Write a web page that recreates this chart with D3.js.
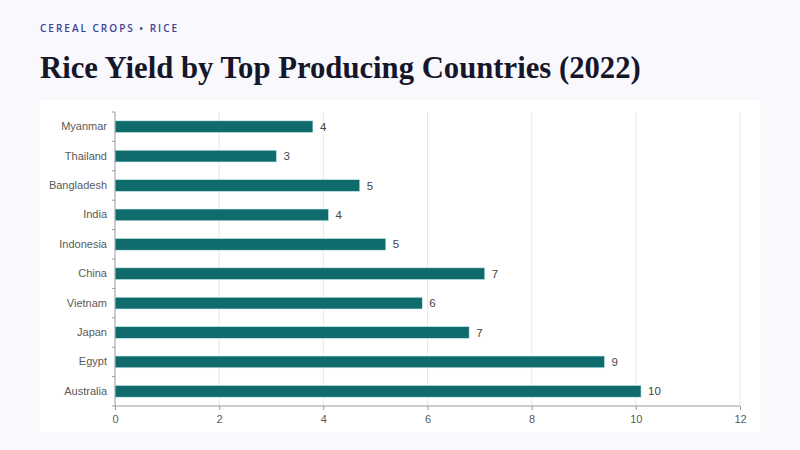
<!DOCTYPE html>
<html>
<head>
<meta charset="utf-8">
<script src="https://cdn.jsdelivr.net/npm/d3@7"></script>
<style>
  html, body { margin: 0; padding: 0; background: #f8f8fd; }
  svg { display: block; }
</style>
</head>
<body>
<svg id="chart" width="800" height="450"></svg>
<script>
'use strict';

var countries = ["Myanmar", "Thailand", "Bangladesh", "India", "Indonesia", "China", "Vietnam", "Japan", "Egypt", "Australia"];
var yieldValues = [3.8, 3.1, 4.7, 4.1, 5.2, 7.1, 5.9, 6.8, 9.4, 10.1];
var xTicks = [0, 2, 4, 6, 8, 10, 12];

var svg = d3.select("#chart");

var width = 800,
    height = 450;

var margin = { top: 112, right: 60, bottom: 44, left: 115 };

svg.append("rect")
    .attr("width", width)
    .attr("height", height)
    .attr("fill", "#f8f8fd");

// white card behind the plot
svg.append("rect")
    .attr("x", 40)
    .attr("y", 100)
    .attr("width", 720)
    .attr("height", 332)
    .attr("fill", "#ffffff");

svg.append("text")
    .attr("x", 40)
    .attr("y", 32)
    .text("CEREAL CROPS \u2022 RICE")
    .style("font-family", "'Open Sans', sans-serif")
    .style("font-size", "10px")
    .style("font-weight", "600")
    .style("letter-spacing", "2px")
    .attr("fill", "#3b4394");

var title = svg.append("text")
    .attr("x", 40)
    .attr("y", 78)
    .text("Rice Yield by Top Producing Countries (2022)")
    .style("font-family", "'Liberation Serif', serif")
    .style("font-size", "32px")
    .style("font-weight", "bold")
    .attr("fill", "#16162a");

// shrink/grow the title so it spans about 600px like the original
var tw = title.node().getComputedTextLength();
title.style("font-size", (32 * 600 / tw).toFixed(1) + "px");

var data = countries.map(function (c, i) {
    return { country: c, value: yieldValues[i] };
});

var x = d3.scaleLinear()
    .domain([0, 12])
    .range([margin.left, width - margin.right]);

var y = d3.scaleBand()
    .domain(countries)
    .range([margin.top, height - margin.bottom])
    .paddingInner(0.6)
    .paddingOuter(0.3);

var plotBottom = height - margin.bottom;

// vertical grid lines
svg.append("g")
    .selectAll("line")
    .data(xTicks.slice(1))
    .enter().append("line")
    .attr("x1", function (d) { return x(d); })
    .attr("x2", function (d) { return x(d); })
    .attr("y1", margin.top)
    .attr("y2", plotBottom)
    .attr("stroke", "#e6e6ec")
    .attr("stroke-width", 1);

svg.append("g")
    .selectAll("rect")
    .data(data)
    .enter().append("rect")
    .attr("x", x(0))
    .attr("y", function (d) { return y(d.country); })
    .attr("width", function (d) { return x(d.value) - x(0); })
    .attr("height", y.bandwidth())
    .attr("fill", "#0f6b6c")
    .attr("stroke", "#cfeff0")
    .attr("stroke-width", 0.6);

svg.append("g")
    .selectAll("text")
    .data(data)
    .enter().append("text")
    .attr("x", function (d) { return x(d.value) + 7; })
    .attr("y", function (d) { return y(d.country) + y.bandwidth() / 2; })
    .attr("dy", "0.35em")
    .text(function (d) { return Math.round(d.value); })
    .style("font-family", "'Liberation Sans', Arial, sans-serif")
    .style("font-size", "11.5px")
    .attr("fill", "#444");

// x axis
var xAxis = svg.append("g")
    .attr("transform", "translate(0," + plotBottom + ")")
    .call(d3.axisBottom(x).tickValues(xTicks).tickSize(4).tickPadding(5));

// y axis, ticks sit on the band edges
var step = y.step();
var edges = d3.range(countries.length + 1).map(function (i) { return margin.top + i * step; });

var yAxis = svg.append("g")
    .attr("transform", "translate(" + margin.left + ",0)")
    .call(d3.axisLeft(y).tickSize(0).tickPadding(8));

yAxis.selectAll(".tick").attr("transform", function (d) {
    return "translate(0," + (y(d) + y.bandwidth() / 2) + ")";
});

yAxis.append("g")
    .selectAll("line")
    .data(edges)
    .enter().append("line")
    .attr("x1", -3)
    .attr("x2", 0)
    .attr("y1", function (d) { return d; })
    .attr("y2", function (d) { return d; })
    .attr("stroke", "#999");

[xAxis, yAxis].forEach(function (ax) {
    ax.select(".domain").attr("stroke", "#9a9aa2");
    ax.selectAll(".tick line").attr("stroke", "#9a9aa2");
    ax.selectAll("text")
        .style("font-family", "'Liberation Sans', Arial, sans-serif")
        .style("font-size", "11px")
        .attr("fill", "#5a5a5a");
});

yAxis.select(".domain").attr("d", "M0," + margin.top + "V" + plotBottom);
xAxis.select(".domain").attr("d", "M" + x(0) + ",0H" + x(12));
</script>
</body>
</html>
